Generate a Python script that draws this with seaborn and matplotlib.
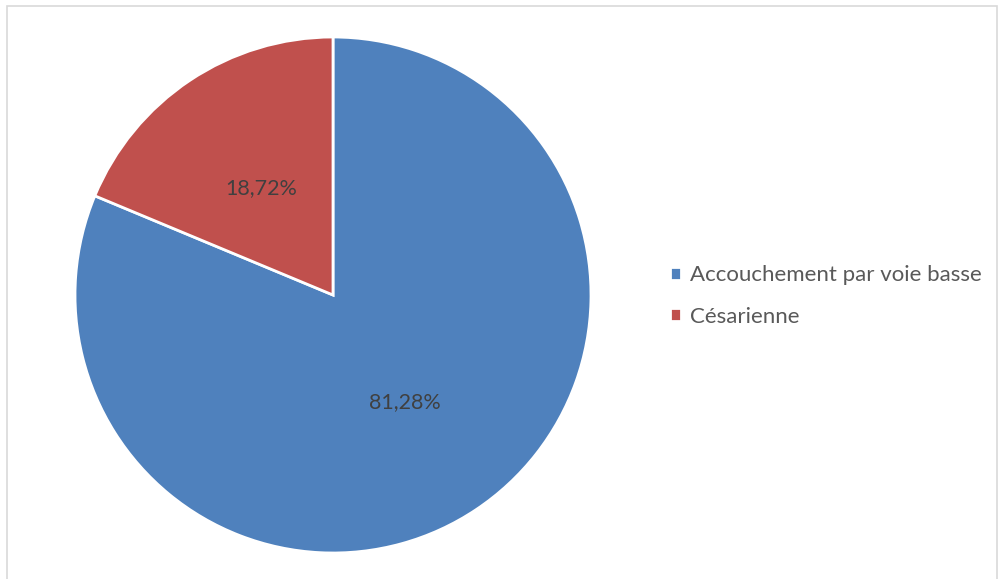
import numpy as np
import matplotlib
matplotlib.use("Agg")
import matplotlib.pyplot as plt
import seaborn as sns
from matplotlib.patches import Rectangle

# data
categories = ["Accouchement par voie basse", "Césarienne"]
values = [81.28, 18.72]
colors = ["#4F81BD", "#C0504D"]

sns.set_theme(style="white")
plt.rcParams["font.family"] = ["Lato", "DejaVu Sans"]

fig = plt.figure(figsize=(10, 5.79), dpi=100)

# chart border
fig.patches.append(Rectangle((7 / 1000, -0.01), 990 / 1000, 1 - 6 / 579 + 0.01,
                             transform=fig.transFigure, fill=False,
                             edgecolor="#D9D9D9", linewidth=1.2))

ax = fig.add_axes([75 / 1000, 26 / 579, 516 / 1000, 516 / 579])
wedges, texts, autotexts = ax.pie(
    values, colors=colors, startangle=90, counterclock=False,
    autopct=lambda p: f"{p:.2f}%".replace(".", ","), pctdistance=0.5,
    wedgeprops={"edgecolor": "white", "linewidth": 2},
    textprops={"color": "#404040", "fontsize": 15.5})
ax.set_xlim(-1.0, 1.0)
ax.set_ylim(-1.0, 1.0)
ax.set_aspect("equal")
ax.axis("off")

fig.legend(wedges, categories, loc="center left",
           bbox_to_anchor=(670 / 1000, 1 - 296 / 579), frameon=False,
           fontsize=16, labelcolor="#595959", handlelength=0.5,
           handleheight=0.5, handletextpad=0.4, labelspacing=0.95,
           borderpad=0, borderaxespad=0)

fig.savefig("out.png", dpi=100)
